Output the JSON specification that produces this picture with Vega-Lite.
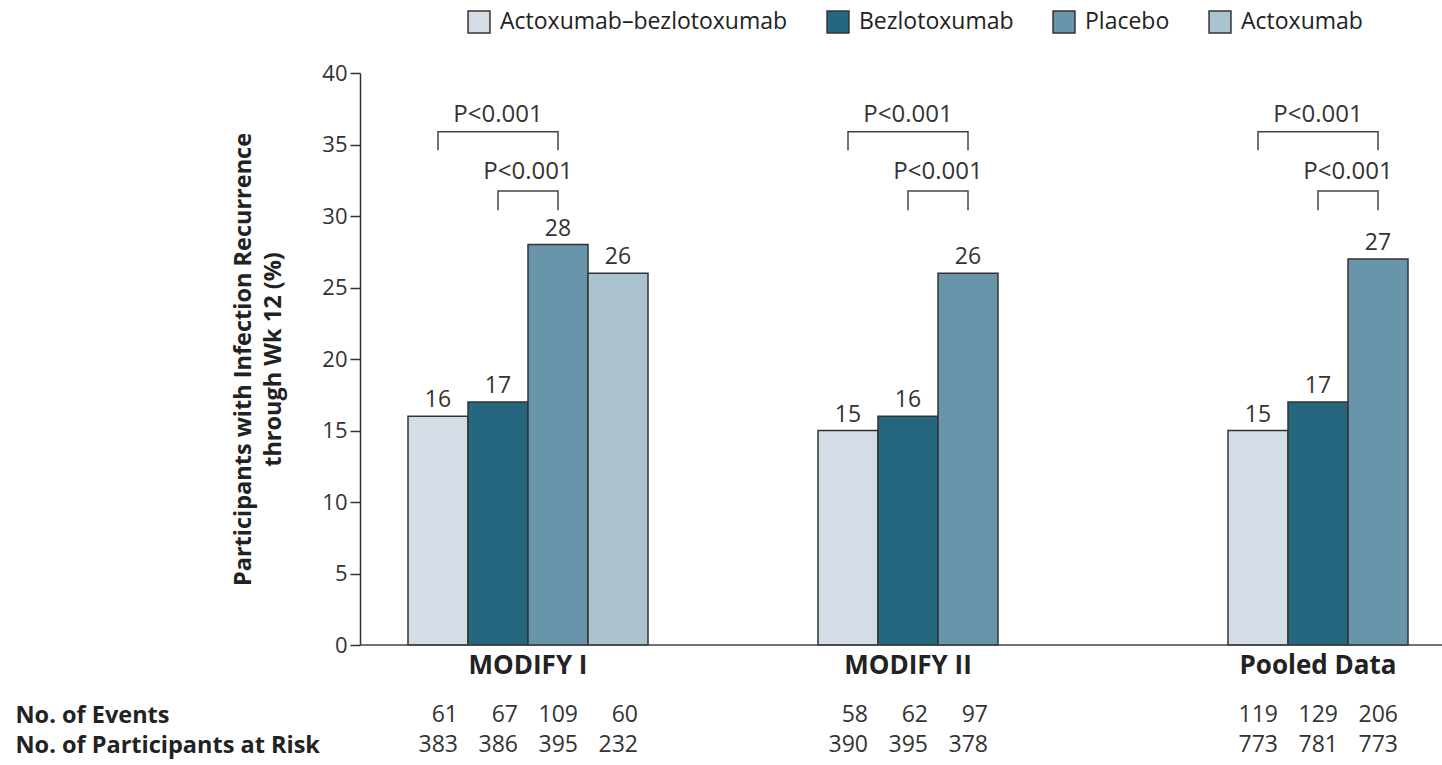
{
  "$schema": "https://vega.github.io/schema/vega-lite/v6.json",
  "padding": {"left": 15, "top": 10, "right": 0, "bottom": 0},
  "config": {
    "font": "Open Sans",
    "view": {"stroke": null}
  },
  "datasets": {
    "rates": [
      {"trial": "MODIFY I", "treatment": "Actoxumab–bezlotoxumab", "pct": 16},
      {"trial": "MODIFY I", "treatment": "Bezlotoxumab", "pct": 17},
      {"trial": "MODIFY I", "treatment": "Placebo", "pct": 28},
      {"trial": "MODIFY I", "treatment": "Actoxumab", "pct": 26},
      {"trial": "MODIFY II", "treatment": "Actoxumab–bezlotoxumab", "pct": 15},
      {"trial": "MODIFY II", "treatment": "Bezlotoxumab", "pct": 16},
      {"trial": "MODIFY II", "treatment": "Placebo", "pct": 26},
      {"trial": "Pooled Data", "treatment": "Actoxumab–bezlotoxumab", "pct": 15},
      {"trial": "Pooled Data", "treatment": "Bezlotoxumab", "pct": 17},
      {"trial": "Pooled Data", "treatment": "Placebo", "pct": 27}
    ],
    "brackets": [
      {"trial": "MODIFY I", "bid": "I-A", "treatment": "Actoxumab–bezlotoxumab", "y": 34.6, "k": 1},
      {"trial": "MODIFY I", "bid": "I-A", "treatment": "Actoxumab–bezlotoxumab", "y": 35.9, "k": 2},
      {"trial": "MODIFY I", "bid": "I-A", "treatment": "Placebo", "y": 35.9, "k": 3},
      {"trial": "MODIFY I", "bid": "I-A", "treatment": "Placebo", "y": 34.6, "k": 4},
      {"trial": "MODIFY I", "bid": "I-B", "treatment": "Bezlotoxumab", "y": 30.4, "k": 1},
      {"trial": "MODIFY I", "bid": "I-B", "treatment": "Bezlotoxumab", "y": 31.75, "k": 2},
      {"trial": "MODIFY I", "bid": "I-B", "treatment": "Placebo", "y": 31.75, "k": 3},
      {"trial": "MODIFY I", "bid": "I-B", "treatment": "Placebo", "y": 30.4, "k": 4},
      {"trial": "MODIFY II", "bid": "II-A", "treatment": "Actoxumab–bezlotoxumab", "y": 34.6, "k": 1},
      {"trial": "MODIFY II", "bid": "II-A", "treatment": "Actoxumab–bezlotoxumab", "y": 35.9, "k": 2},
      {"trial": "MODIFY II", "bid": "II-A", "treatment": "Placebo", "y": 35.9, "k": 3},
      {"trial": "MODIFY II", "bid": "II-A", "treatment": "Placebo", "y": 34.6, "k": 4},
      {"trial": "MODIFY II", "bid": "II-B", "treatment": "Bezlotoxumab", "y": 30.4, "k": 1},
      {"trial": "MODIFY II", "bid": "II-B", "treatment": "Bezlotoxumab", "y": 31.75, "k": 2},
      {"trial": "MODIFY II", "bid": "II-B", "treatment": "Placebo", "y": 31.75, "k": 3},
      {"trial": "MODIFY II", "bid": "II-B", "treatment": "Placebo", "y": 30.4, "k": 4},
      {"trial": "Pooled Data", "bid": "P-A", "treatment": "Actoxumab–bezlotoxumab", "y": 34.6, "k": 1},
      {"trial": "Pooled Data", "bid": "P-A", "treatment": "Actoxumab–bezlotoxumab", "y": 35.9, "k": 2},
      {"trial": "Pooled Data", "bid": "P-A", "treatment": "Placebo", "y": 35.9, "k": 3},
      {"trial": "Pooled Data", "bid": "P-A", "treatment": "Placebo", "y": 34.6, "k": 4},
      {"trial": "Pooled Data", "bid": "P-B", "treatment": "Bezlotoxumab", "y": 30.4, "k": 1},
      {"trial": "Pooled Data", "bid": "P-B", "treatment": "Bezlotoxumab", "y": 31.75, "k": 2},
      {"trial": "Pooled Data", "bid": "P-B", "treatment": "Placebo", "y": 31.75, "k": 3},
      {"trial": "Pooled Data", "bid": "P-B", "treatment": "Placebo", "y": 30.4, "k": 4}
    ],
    "pvalues": [
      {"trial": "MODIFY I", "comparison": "combination vs placebo", "treatment": "Bezlotoxumab", "y": 36.6, "label": "P<0.001"},
      {"trial": "MODIFY II", "comparison": "combination vs placebo", "treatment": "Bezlotoxumab", "y": 36.6, "label": "P<0.001"},
      {"trial": "Pooled Data", "comparison": "combination vs placebo", "treatment": "Bezlotoxumab", "y": 36.6, "label": "P<0.001"},
      {"trial": "MODIFY I", "comparison": "bezlotoxumab vs placebo", "y": 32.6, "label": "P<0.001"},
      {"trial": "MODIFY II", "comparison": "bezlotoxumab vs placebo", "y": 32.6, "label": "P<0.001"},
      {"trial": "Pooled Data", "comparison": "bezlotoxumab vs placebo", "y": 32.6, "label": "P<0.001"}
    ],
    "counts": [
      {"trial": "MODIFY I", "treatment": "Actoxumab–bezlotoxumab", "row": "No. of Events", "n": 61},
      {"trial": "MODIFY I", "treatment": "Bezlotoxumab", "row": "No. of Events", "n": 67},
      {"trial": "MODIFY I", "treatment": "Placebo", "row": "No. of Events", "n": 109},
      {"trial": "MODIFY I", "treatment": "Actoxumab", "row": "No. of Events", "n": 60},
      {"trial": "MODIFY II", "treatment": "Actoxumab–bezlotoxumab", "row": "No. of Events", "n": 58},
      {"trial": "MODIFY II", "treatment": "Bezlotoxumab", "row": "No. of Events", "n": 62},
      {"trial": "MODIFY II", "treatment": "Placebo", "row": "No. of Events", "n": 97},
      {"trial": "Pooled Data", "treatment": "Actoxumab–bezlotoxumab", "row": "No. of Events", "n": 119},
      {"trial": "Pooled Data", "treatment": "Bezlotoxumab", "row": "No. of Events", "n": 129},
      {"trial": "Pooled Data", "treatment": "Placebo", "row": "No. of Events", "n": 206},
      {"trial": "MODIFY I", "treatment": "Actoxumab–bezlotoxumab", "row": "No. of Participants at Risk", "n": 383},
      {"trial": "MODIFY I", "treatment": "Bezlotoxumab", "row": "No. of Participants at Risk", "n": 386},
      {"trial": "MODIFY I", "treatment": "Placebo", "row": "No. of Participants at Risk", "n": 395},
      {"trial": "MODIFY I", "treatment": "Actoxumab", "row": "No. of Participants at Risk", "n": 232},
      {"trial": "MODIFY II", "treatment": "Actoxumab–bezlotoxumab", "row": "No. of Participants at Risk", "n": 390},
      {"trial": "MODIFY II", "treatment": "Bezlotoxumab", "row": "No. of Participants at Risk", "n": 395},
      {"trial": "MODIFY II", "treatment": "Placebo", "row": "No. of Participants at Risk", "n": 378},
      {"trial": "Pooled Data", "treatment": "Actoxumab–bezlotoxumab", "row": "No. of Participants at Risk", "n": 773},
      {"trial": "Pooled Data", "treatment": "Bezlotoxumab", "row": "No. of Participants at Risk", "n": 781},
      {"trial": "Pooled Data", "treatment": "Placebo", "row": "No. of Participants at Risk", "n": 773}
    ]
  },
  "bounds": "flush",
  "spacing": 55,
  "vconcat": [
    {
      "width": 1082,
      "height": 572,
      "layer": [
        {
          "data": {"name": "rates"},
          "mark": {"type": "bar", "stroke": "#333333", "strokeWidth": 1.5},
          "encoding": {
            "x": {
              "field": "trial", "type": "nominal",
              "scale": {"domain": ["MODIFY I", "MODIFY II", "Pooled Data"], "range": [48, 1108], "paddingInner": 0.41463, "paddingOuter": 0},
              "axis": {
                "title": null, "domain": false, "ticks": false, "labelAngle": 0,
                "labelFontSize": 26, "labelFontWeight": "bold", "labelColor": "#222222", "labelPadding": 7,
                "labelOffset": {"condition": {"test": "datum.value !== 'MODIFY I'", "value": -30}, "value": 0}
              }
            },
            "xOffset": {
              "field": "treatment", "type": "nominal",
              "scale": {"domain": ["Actoxumab–bezlotoxumab", "Bezlotoxumab", "Placebo", "Actoxumab"], "paddingInner": 0, "paddingOuter": 0}
            },
            "y": {
              "field": "pct", "type": "quantitative",
              "scale": {"domain": [0, 40]},
              "axis": {
                "title": ["Participants with Infection Recurrence", "through Wk 12 (%)"],
                "titleFontSize": 23.5, "titleFontWeight": "bold", "titleColor": "#222222", "titlePadding": 36, "titleLineHeight": 30,
                "values": [0, 5, 10, 15, 20, 25, 30, 35, 40], "grid": false,
                "tickSize": 10, "tickWidth": 1.5, "tickColor": "#333333",
                "domainColor": "#333333", "domainWidth": 1.5,
                "labelFontSize": 22, "labelColor": "#333333", "labelPadding": 3
              }
            },
            "color": {
              "field": "treatment", "type": "nominal",
              "scale": {
                "domain": ["Actoxumab–bezlotoxumab", "Bezlotoxumab", "Placebo", "Actoxumab"],
                "range": ["#d4dde5", "#24677f", "#6995ab", "#abc2cf"]
              },
              "legend": {
                "title": null, "orient": "none", "legendX": 107, "legendY": -63, "direction": "horizontal",
                "symbolType": "square", "symbolSize": 480, "symbolStrokeColor": "#333333", "symbolStrokeWidth": 1.5,
                "labelFontSize": 23, "labelColor": "#222222", "labelOffset": 9, "columnPadding": 36, "labelLimit": 400
              }
            }
          }
        },
        {
          "data": {"name": "rates"},
          "mark": {"type": "text", "baseline": "bottom", "dy": -4, "fontSize": 23, "color": "#333333"},
          "encoding": {
            "x": {"field": "trial", "type": "nominal"},
            "xOffset": {"field": "treatment", "type": "nominal"},
            "y": {"field": "pct", "type": "quantitative"},
            "text": {"field": "pct", "type": "quantitative"}
          }
        },
        {
          "data": {"name": "brackets"},
          "mark": {"type": "line", "stroke": "#444444", "strokeWidth": 1.5},
          "encoding": {
            "x": {"field": "trial", "type": "nominal"},
            "xOffset": {"field": "treatment", "type": "nominal"},
            "y": {"field": "y", "type": "quantitative"},
            "detail": {"field": "bid"},
            "order": {"field": "k", "type": "quantitative"}
          }
        },
        {
          "data": {"name": "pvalues"},
          "transform": [{"filter": "datum.comparison === 'combination vs placebo'"}],
          "mark": {"type": "text", "baseline": "alphabetic", "fontSize": 24, "color": "#333333"},
          "encoding": {
            "x": {"field": "trial", "type": "nominal"},
            "xOffset": {"field": "treatment", "type": "nominal"},
            "y": {"field": "y", "type": "quantitative"},
            "text": {"field": "label"}
          }
        },
        {
          "data": {"name": "pvalues"},
          "transform": [{"filter": "datum.comparison === 'bezlotoxumab vs placebo'"}],
          "mark": {"type": "text", "baseline": "alphabetic", "fontSize": 24, "color": "#333333"},
          "encoding": {
            "x": {"field": "trial", "type": "nominal"},
            "y": {"field": "y", "type": "quantitative"},
            "text": {"field": "label"}
          }
        },
        {
          "data": {"values": [{}]},
          "mark": {"type": "rule", "color": "#444444", "strokeWidth": 1.5},
          "encoding": {"y": {"datum": 0}}
        }
      ]
    },
    {
      "width": 1082,
      "height": 60,
      "data": {"name": "counts"},
      "mark": {"type": "text", "align": "right", "dx": 20, "fontSize": 23, "color": "#333333"},
      "encoding": {
        "x": {
          "field": "trial", "type": "nominal",
          "scale": {"domain": ["MODIFY I", "MODIFY II", "Pooled Data"], "range": [48, 1108], "paddingInner": 0.41463, "paddingOuter": 0},
          "axis": null
        },
        "xOffset": {
          "field": "treatment", "type": "nominal",
          "scale": {"domain": ["Actoxumab–bezlotoxumab", "Bezlotoxumab", "Placebo", "Actoxumab"], "paddingInner": 0, "paddingOuter": 0}
        },
        "y": {
          "field": "row", "type": "nominal",
          "scale": {"domain": ["No. of Events", "No. of Participants at Risk"], "paddingInner": 0, "paddingOuter": 0},
          "axis": {
            "title": null, "domain": false, "ticks": false, "tickSize": 0,
            "labelAlign": "left", "labelPadding": 345, "labelFontSize": 23.5, "labelFontWeight": "bold",
            "labelColor": "#222222", "labelLimit": 400
          }
        },
        "text": {"field": "n", "type": "quantitative"}
      }
    }
  ]
}
